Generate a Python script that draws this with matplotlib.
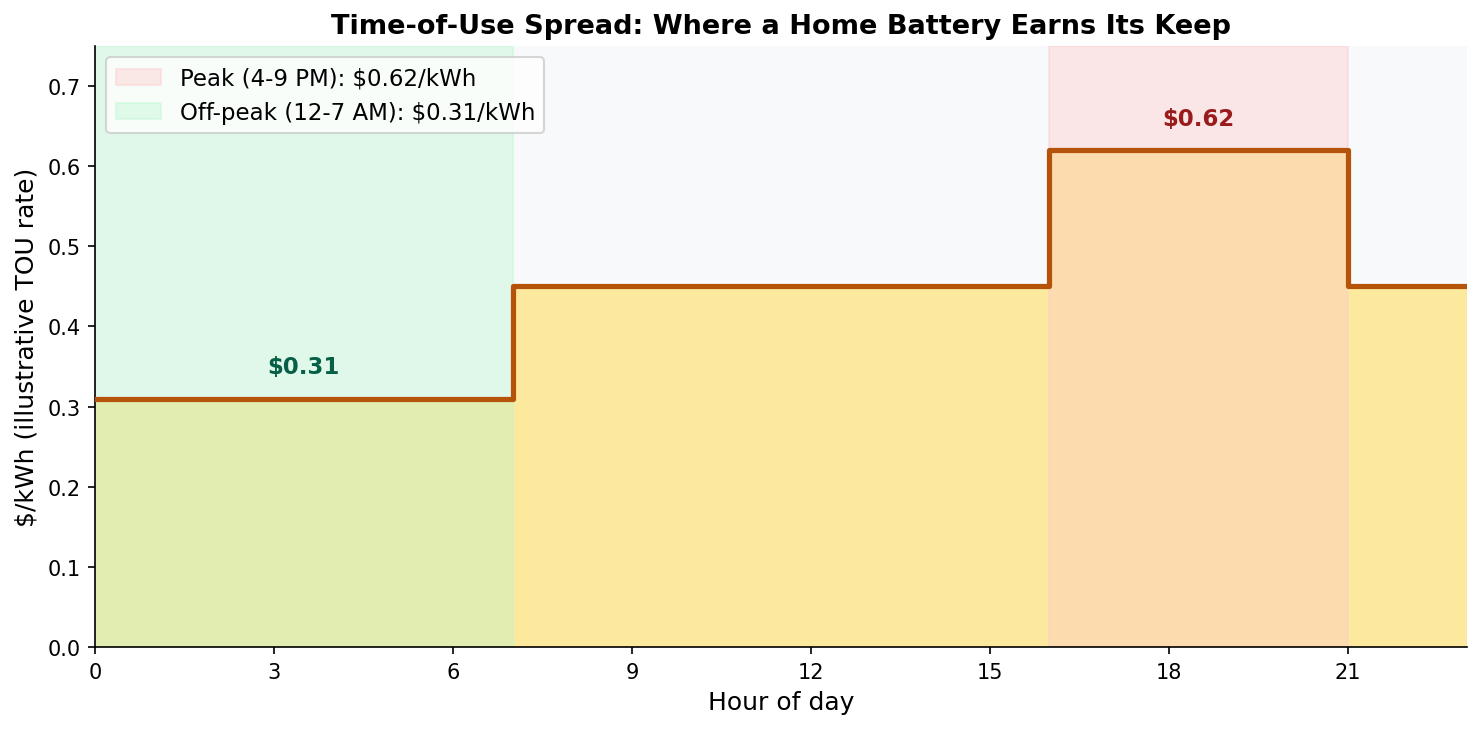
import matplotlib
matplotlib.use("Agg")
import matplotlib.pyplot as plt

hours = list(range(24))
rates = [0.31]*7 + [0.45]*9 + [0.62]*5 + [0.45]*3
peak_window = (16, 21)
offpeak_window = (0, 7)
peak_rate = 0.62
offpeak_rate = 0.31

W, H = 1482, 730
fig = plt.figure(figsize=(W/150, H/150), dpi=150)
ax = fig.add_axes([95/W, 1-648/H, (1467-95)/W, (648-47)/H])
ax.set_facecolor("#f8f9fb")

ax.fill_between(hours, rates, step="post", color="#fde68a", alpha=0.82, zorder=0.5, linewidth=0)

ax.axvspan(*peak_window, color="#fecaca", alpha=0.4,
           label=f"Peak (4-9 PM): ${peak_rate:.2f}/kWh", zorder=1)
ax.axvspan(*offpeak_window, color="#bbf7d0", alpha=0.4,
           label=f"Off-peak (12-7 AM): ${offpeak_rate:.2f}/kWh", zorder=1)

ax.step(hours, rates, where="post", color="#b45309", linewidth=2.5, zorder=3)

ax.text(3.5, offpeak_rate + 0.04, f"${offpeak_rate:.2f}", ha="center", va="center",
        fontweight="bold", color="#065f46", fontsize=11)
ax.text(18.5, peak_rate + 0.04, f"${peak_rate:.2f}", ha="center", va="center",
        fontweight="bold", color="#991b1b", fontsize=11)

ax.set_xlim(0, 23)
ax.set_ylim(0, 0.75)
ax.set_xticks(range(0, 24, 3))
ax.set_xlabel("Hour of day", fontsize=12)
ax.set_ylabel("$/kWh (illustrative TOU rate)", fontsize=12)
ax.set_title("Time-of-Use Spread: Where a Home Battery Earns Its Keep",
             fontsize=13, fontweight="bold")
ax.spines["top"].set_visible(False)
ax.spines["right"].set_visible(False)
ax.legend(loc="upper left", fontsize=11)

fig.savefig("out.png", dpi=150)
